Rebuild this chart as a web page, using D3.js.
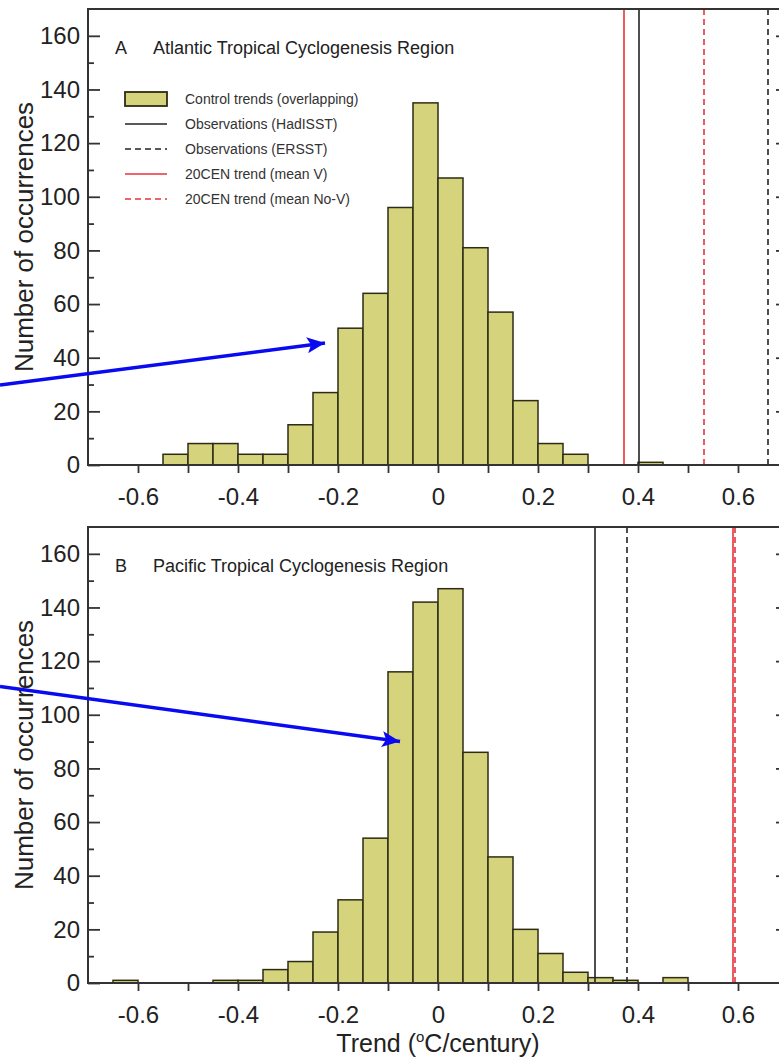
<!DOCTYPE html>
<html>
<head>
<meta charset="utf-8">
<script src="https://cdn.jsdelivr.net/npm/d3@7/dist/d3.min.js"></script>
<style>
  body { margin: 0; background: #fff; }
  svg { display: block; font-family: "Liberation Sans", Arial, Helvetica, sans-serif; }
</style>
</head>
<body>
<svg id="chart" width="779" height="1064"></svg>
<script>
// ---- data ----
const binWidth = 0.05;

const atlanticBinStarts = [-0.55, -0.5, -0.45, -0.4, -0.35, -0.3, -0.25, -0.2, -0.15, -0.1, -0.05, 0, 0.05, 0.1, 0.15, 0.2, 0.25, 0.4];
const atlanticCounts    = [4, 8, 8, 4, 4, 15, 27, 51, 64, 96, 135, 107, 81, 57, 24, 8, 4, 1];

const pacificBinStarts = [-0.65, -0.45, -0.4, -0.35, -0.3, -0.25, -0.2, -0.15, -0.1, -0.05, 0, 0.05, 0.1, 0.15, 0.2, 0.25, 0.3, 0.35, 0.45];
const pacificCounts    = [1, 1, 1, 5, 8, 19, 31, 54, 116, 142, 147, 86, 47, 20, 11, 4, 2, 1, 2];

// reference lines: HadISST, ERSST, 20CEN mean V, 20CEN mean No-V
const lineNames        = ["Observations (HadISST)", "Observations (ERSST)", "20CEN trend (mean V)", "20CEN trend (mean No-V)"];
const atlanticLineVals = [0.402, 0.66, 0.372, 0.532];
const pacificLineVals  = [0.314, 0.378, 0.590, 0.594];

const xTicks      = [-0.6, -0.4, -0.2, 0, 0.2, 0.4, 0.6];
const xMinorTicks = [-0.5, -0.3, -0.1, 0.1, 0.3, 0.5];
const yTicks      = [0, 20, 40, 60, 80, 100, 120, 140, 160];
const yMinorTicks = [10, 30, 50, 70, 90, 110, 130, 150, 170];

const panelLetters = ["A", "B"];
const panelTitles  = ["Atlantic Tropical Cyclogenesis Region", "Pacific Tropical Cyclogenesis Region"];

// annotation arrows in data units: [x0, y0, x1, y1]
const arrowA = [-0.876, 29.8, -0.226, 45.5];
const arrowB = [-0.876, 110.5, -0.076, 90];

// ---- styles ----
const barFill = "#d5d37c";
const barStroke = "#2e2c14";
const frameColor = "#333";
const lineStyles = [
  { color: "#222", dash: null },
  { color: "#222", dash: "6,4" },
  { color: "#e8333c", dash: null },
  { color: "#e8333c", dash: "6,4" }
];

const svg = d3.select("#chart");

const x = d3.scaleLinear().domain([-0.7, 0.7]).range([88, 788]);

svg.append("defs").append("marker")
  .attr("id", "arrowhead")
  .attr("markerUnits", "userSpaceOnUse")
  .attr("markerWidth", 20)
  .attr("markerHeight", 16)
  .attr("refX", 18)
  .attr("refY", 8)
  .attr("orient", "auto")
  .append("path")
  .attr("d", "M0,0 L18,8 L0,16 L4,8 Z")
  .attr("fill", "#0a0af0");

function drawPanel(opts) {
  const y = d3.scaleLinear().domain([0, 170]).range([opts.bottom, opts.top]);
  const g = svg.append("g");

  // bars
  g.append("g").selectAll("rect")
    .data(opts.starts.map((s, i) => ({ s: s, c: opts.counts[i] })))
    .join("rect")
    .attr("x", d => x(d.s))
    .attr("width", d => x(d.s + binWidth) - x(d.s))
    .attr("y", d => y(d.c))
    .attr("height", d => y(0) - y(d.c))
    .attr("fill", barFill)
    .attr("stroke", barStroke)
    .attr("stroke-width", 1.5);

  // vertical reference lines (draw solid red first so dashed sits on top)
  const order = [0, 2, 1, 3];
  g.append("g").selectAll("line")
    .data(order.map(i => ({ v: opts.lines[i], st: lineStyles[i] })))
    .join("line")
    .attr("x1", d => x(d.v)).attr("x2", d => x(d.v))
    .attr("y1", y(170)).attr("y2", y(0))
    .attr("stroke", d => d.st.color)
    .attr("stroke-width", 1.6)
    .attr("stroke-dasharray", d => d.st.dash);

  // left axis (ticks inward)
  const left = g.append("g").attr("transform", `translate(${x(-0.7)},0)`)
    .call(d3.axisLeft(y).tickValues(yTicks).tickSizeInner(-12).tickSizeOuter(0).tickPadding(8));
  g.append("g").attr("transform", `translate(${x(-0.7)},0)`)
    .call(d3.axisLeft(y).tickValues(yMinorTicks.filter(v => v < 170)).tickSizeInner(-6).tickSizeOuter(0).tickFormat(""))
    .call(a => a.select(".domain").remove());

  // right axis (ticks inward, no labels)
  g.append("g").attr("transform", `translate(${x(0.7)},0)`)
    .call(d3.axisRight(y).tickValues(yTicks.filter(v => v > 0)).tickSizeInner(-12).tickSizeOuter(0).tickFormat(""))
    .call(a => a.select(".domain").remove());
  g.append("g").attr("transform", `translate(${x(0.7)},0)`)
    .call(d3.axisRight(y).tickValues(yMinorTicks.filter(v => v < 170)).tickSizeInner(-6).tickSizeOuter(0).tickFormat(""))
    .call(a => a.select(".domain").remove());

  // bottom axis (ticks outward)
  const bottom = g.append("g").attr("transform", `translate(0,${opts.bottom})`)
    .call(d3.axisBottom(x).tickValues(xTicks).tickSizeInner(8).tickSizeOuter(0).tickPadding(15)
      .tickFormat(d => d === 0 ? "0" : d3.format(".1f")(d).replace("−", "-")));
  g.append("g").attr("transform", `translate(0,${opts.bottom})`)
    .call(d3.axisBottom(x).tickValues(xMinorTicks).tickSizeInner(8).tickSizeOuter(0).tickFormat(""))
    .call(a => a.select(".domain").remove());

  [left, bottom].forEach(a => {
    a.select(".domain").remove();
    a.selectAll("text").attr("font-size", 24).attr("fill", "#222").attr("font-family", null);
  });
  g.selectAll(".tick line").attr("stroke", frameColor).attr("stroke-width", 1.8);

  // frame
  g.append("rect")
    .attr("x", x(-0.7)).attr("y", y(170))
    .attr("width", x(0.7) - x(-0.7)).attr("height", y(0) - y(170))
    .attr("fill", "none").attr("stroke", frameColor).attr("stroke-width", 2);

  // y label
  g.append("text")
    .attr("transform", `translate(33,${(opts.top + opts.bottom) / 2}) rotate(-90)`)
    .attr("text-anchor", "middle")
    .attr("font-size", 26)
    .attr("fill", "#222")
    .text("Number of occurrences");

  // panel title
  g.append("text").attr("x", 115).attr("y", y(170) + 45)
    .attr("font-size", 18).attr("fill", "#222").text(opts.letter);
  g.append("text").attr("x", 153).attr("y", y(170) + 45)
    .attr("font-size", 18).attr("fill", "#222").text(opts.title);

  return y;
}

const yA = drawPanel({ top: 9, bottom: 465, starts: atlanticBinStarts, counts: atlanticCounts,
  lines: atlanticLineVals, letter: panelLetters[0], title: panelTitles[0] });
const yB = drawPanel({ top: 527, bottom: 983, starts: pacificBinStarts, counts: pacificCounts,
  lines: pacificLineVals, letter: panelLetters[1], title: panelTitles[1] });

// legend (panel A)
const legend = svg.append("g").attr("transform", "translate(125,99)");
legend.append("rect").attr("x", 0).attr("y", -7).attr("width", 42).attr("height", 14)
  .attr("fill", barFill).attr("stroke", barStroke).attr("stroke-width", 1.8);
legend.append("text").attr("x", 60).attr("y", 5).attr("font-size", 14).attr("fill", "#333")
  .text("Control trends (overlapping)");
lineNames.forEach((name, i) => {
  const row = legend.append("g").attr("transform", `translate(0,${(i + 1) * 25})`);
  row.append("line").attr("x1", 0).attr("x2", 42).attr("y1", 0).attr("y2", 0)
    .attr("stroke", lineStyles[i].color).attr("stroke-width", 1.6)
    .attr("stroke-dasharray", lineStyles[i].dash);
  row.append("text").attr("x", 60).attr("y", 5).attr("font-size", 14).attr("fill", "#333").text(name);
});

// x axis title
const xt = svg.append("text").attr("x", x(0)).attr("y", 1052).attr("text-anchor", "middle")
  .attr("font-size", 25).attr("fill", "#222");
xt.append("tspan").text("Trend (");
xt.append("tspan").attr("font-size", 15).attr("dy", -10).text("o");
xt.append("tspan").attr("dy", 10).text("C/century)");

// annotation arrows
[[arrowA, yA], [arrowB, yB]].forEach(([a, y]) => {
  svg.append("line")
    .attr("x1", x(a[0])).attr("y1", y(a[1]))
    .attr("x2", x(a[2])).attr("y2", y(a[3]))
    .attr("stroke", "#0a0af0").attr("stroke-width", 3.5)
    .attr("marker-end", "url(#arrowhead)");
});
</script>
</body>
</html>
